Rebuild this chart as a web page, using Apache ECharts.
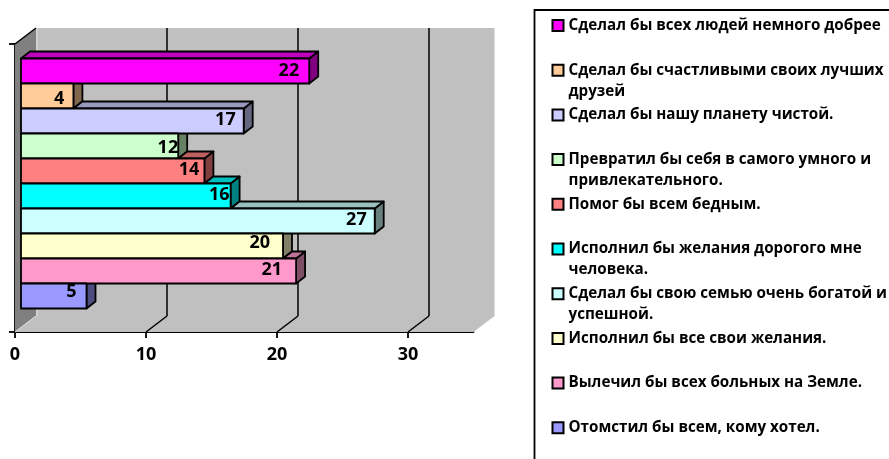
<!DOCTYPE html>
<html><head><meta charset="utf-8">
<script src="https://cdn.jsdelivr.net/npm/echarts@6/dist/echarts.min.js"></script>
<style>html,body{margin:0;padding:0;background:#fff}#c{width:889px;height:459px}</style>
</head><body><div id="c"></div>
<script>
const categories = [
  'Сделал бы всех людей немного добрее',
  'Сделал бы счастливыми своих лучших\nдрузей',
  'Сделал бы нашу планету чистой.',
  'Превратил бы себя в самого умного и\nпривлекательного.',
  'Помог бы всем бедным.',
  'Исполнил бы желания дорогого мне\nчеловека.',
  'Сделал бы свою семью очень богатой и\nуспешной.',
  'Исполнил бы все свои желания.',
  'Вылечил бы всех больных на Земле.',
  'Отомстил бы всем, кому хотел.'
];
const values = [22, 4, 17, 12, 14, 16, 27, 20, 21, 5];
const colors = ['#FF00FF','#FFCC99','#CCCCFF','#CCFFCC','#FF8080','#00FFFF','#CCFFFF','#FFFFCC','#FF99CC','#9999FF'];
const xTicks = [0, 10, 20, 30];
const gridValues = [10, 20, 30];

// layout constants
const axisMax = 35;
const wallDepth = [21, -16];
const barDepth = [9, -7];
const labelNudgeX = [-10, -9, -8, 0, -5, -1, -8, -13, -14, -10];
const labelNudgeY = [0, 2.5, -1.5, 1.5, -1.5, -1, -1, -3, -1, -4];
const labelFont = 'bold 18px "Open Sans"';

function shade(hex, f) {
  const n = parseInt(hex.slice(1), 16);
  const c = s => Math.round(((n >> s) & 255) * f);
  return 'rgb(' + c(16) + ',' + c(8) + ',' + c(0) + ')';
}
const shift = (p, d) => [p[0] + d[0], p[1] + d[1]];

function renderWalls(params, api) {
  const bl = api.coord([0, 0]), tl = api.coord([0, 1]), br = api.coord([axisMax, 0]);
  const bbl = shift(bl, wallDepth), btl = shift(tl, wallDepth), bbr = shift(br, wallDepth);
  const btr = [bbr[0], btl[1]];
  const poly = (points, fill, extra) => ({ type: 'polygon', shape: { points }, style: Object.assign({ fill }, extra || {}) });
  const line = (a, b, stroke, w) => ({ type: 'line', shape: { x1: a[0], y1: a[1], x2: b[0], y2: b[1] }, style: { stroke, lineWidth: w } });
  const children = [
    poly([btl, btr, bbr, bbl], '#C0C0C0'),
    poly([bl, bbl, bbr, br], '#C0C0C0'),
    poly([tl, btl, bbl, bl], '#808080'),
    line(shift(btl, [1, 0]), shift(bbl, [1, 0]), '#E4E4E4', 1),
    line(bl, bbl, '#E4E4E4', 1),
    line(tl, btl, '#000', 1.5)
  ];
  gridValues.forEach(v => {
    const f = api.coord([v, 0]), b = shift(f, wallDepth), t = [b[0], btl[1]];
    children.push(line(t, b, '#000', 1.5), line(b, f, '#000', 1.5));
  });
  return { type: 'group', children };
}

function renderBar(params, api) {
  const i = api.value(1);
  const end = api.coord([api.value(0), i]);
  const start = api.coord([0, i]);
  const h = api.size([0, 1])[1];
  const color = colors[i];
  const x0 = start[0], x1 = end[0], y0 = end[1] - h / 2, y1 = end[1] + h / 2;
  const stroke = { stroke: '#000', lineWidth: 1.8, lineJoin: 'round' };
  const dx = barDepth[0], dy = barDepth[1];
  // the top face only shows where this bar reaches past the bar above it
  const upperX = i > 0 ? api.coord([values[i - 1], i])[0] : x0;
  const children = [
    { type: 'polygon', z2: 1, shape: { points: [[x1, y0], [x1 + dx, y0 + dy], [x1 + dx, y1 + dy], [x1, y1]] }, style: Object.assign({ fill: shade(color, 0.5) }, stroke) },
    { type: 'rect', z2: 3, shape: { x: x0, y: y0, width: x1 - x0, height: h }, style: Object.assign({ fill: color }, stroke) },
    { type: 'text', z2: 4, style: { text: String(api.value(0)), x: x1 + labelNudgeX[i], y: end[1] + labelNudgeY[i], align: 'right', verticalAlign: 'middle', font: labelFont, fill: '#000' } }
  ];
  if (upperX < x1) {
    children.push({ type: 'polygon', z2: 2, shape: { points: [[upperX, y0], [upperX + dx, y0 + dy], [x1 + dx, y0 + dy], [x1, y0]] }, style: Object.assign({ fill: shade(color, 0.75) }, stroke) });
  }
  return { type: 'group', children };
}

const axisLine = { show: true, lineStyle: { color: '#000', width: 1.8 } };
const barSeries = categories.map((name, i) => ({
  type: 'custom', name, xAxisIndex: 1, yAxisIndex: 1, silent: true, clip: false, z: 5,
  itemStyle: { color: colors[i] },
  encode: { x: 0, y: 1 },
  data: [[values[i], i]],
  renderItem: renderBar
}));

const chart = echarts.init(document.getElementById('c'), null, { renderer: 'canvas' });
chart.setOption({
  animation: false,
  backgroundColor: '#fff',
  grid: [
    { left: 15, top: 44, width: 458.5, height: 288 },
    { left: 21, top: 58.5, width: 458.5, height: 250 }
  ],
  xAxis: [
    { type: 'value', gridIndex: 0, min: 0, max: axisMax, interval: 10, splitLine: { show: false }, axisLine,
      axisTick: { show: true, length: 6, inside: false, customValues: xTicks, lineStyle: { color: '#000', width: 1.8 } },
      axisLabel: { customValues: xTicks, margin: 14, color: '#000', fontFamily: 'Open Sans', fontWeight: 'bold', fontSize: 18 } },
    { type: 'value', gridIndex: 1, min: 0, max: axisMax, show: false, splitLine: { show: false } }
  ],
  yAxis: [
    { type: 'value', gridIndex: 0, min: 0, max: 1, interval: 1, splitLine: { show: false }, axisLine,
      axisTick: { show: true, length: 6, lineStyle: { color: '#000', width: 1.8 } }, axisLabel: { show: false } },
    { type: 'category', gridIndex: 1, data: categories, inverse: true, show: false }
  ],
  legend: {
    orient: 'vertical', left: 551.5, top: -6, height: 600, padding: 0,
    itemWidth: 11, itemHeight: 11, itemGap: -18.3, selectedMode: false,
    icon: 'rect',
    data: categories,
    itemStyle: { borderColor: '#000', borderWidth: 2 },
    textStyle: { fontFamily: 'Open Sans', fontWeight: 'bold', fontSize: 15.2, color: '#000', lineHeight: 21 },
    formatter: n => { const l = n.split('\n'); return '\n' + l[0] + '\n' + (l[1] || ' '); }
  },
  graphic: [
    { type: 'polyline', silent: true, shape: { points: [[534.5, 459], [534.5, 10], [889, 10]] }, style: { stroke: '#000', lineWidth: 1.8, fill: null } }
  ],
  series: [
    { type: 'custom', name: 'walls', xAxisIndex: 0, yAxisIndex: 0, silent: true, clip: false, z: 1, data: [[0, 0]], encode: { x: 0, y: 1 }, renderItem: renderWalls }
  ].concat(barSeries)
});
</script></body></html>
